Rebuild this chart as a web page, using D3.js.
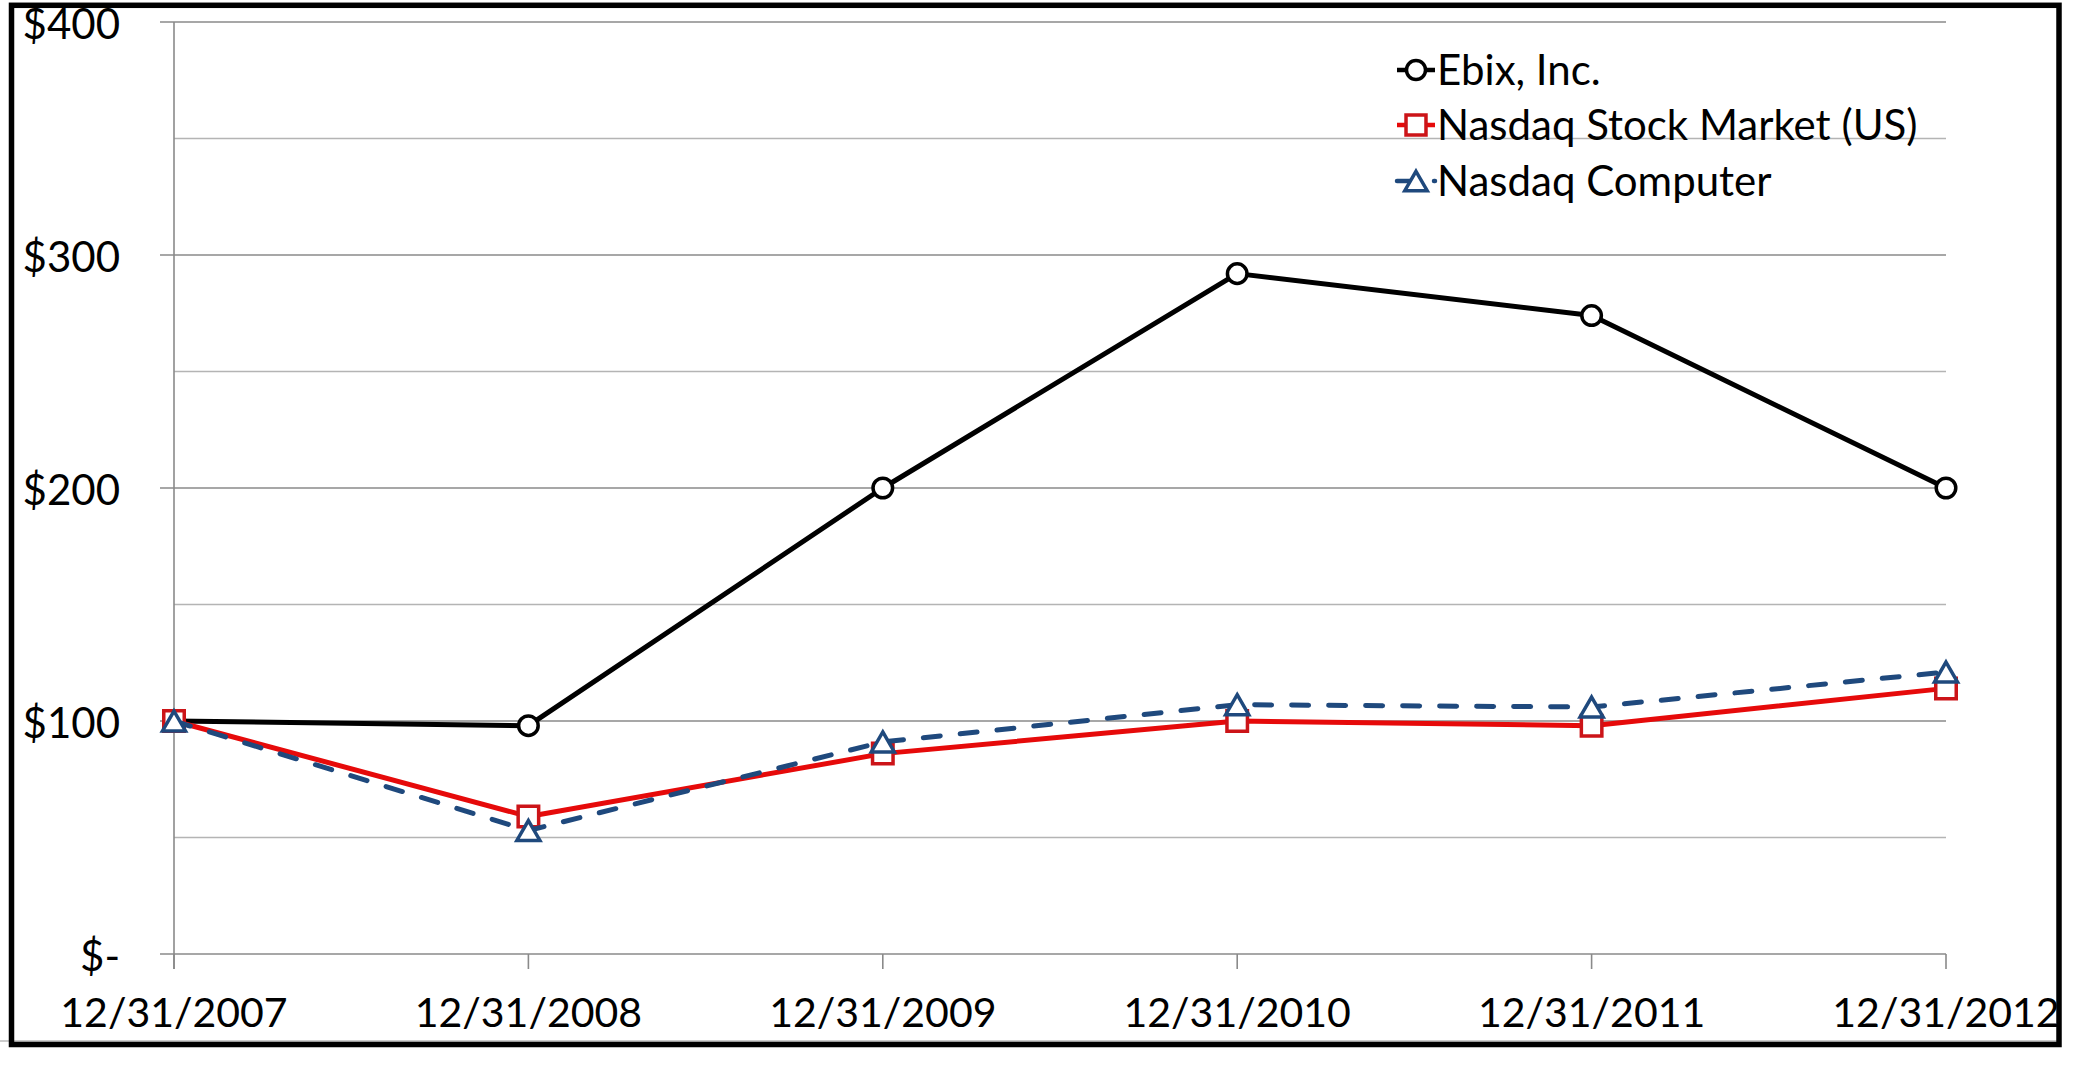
<!DOCTYPE html>
<html>
<head>
<meta charset="utf-8">
<script src="https://cdn.jsdelivr.net/npm/d3@7"></script>
<style>
  html, body { margin: 0; padding: 0; background: #fff; }
  svg { display: block; }
  text { font-family: Lato, "Open Sans", sans-serif; fill: #000; }
</style>
</head>
<body>
<svg id="chart" width="2076" height="1076"></svg>
<script>
// ---- data ----
const categories = ["12/31/2007", "12/31/2008", "12/31/2009", "12/31/2010", "12/31/2011", "12/31/2012"];
const ebix = [100, 98, 200, 292, 274, 200];
const nasdaqMarket = [100, 59, 86, 100, 98, 114];
const nasdaqComputer = [100, 53, 91, 107, 106, 121];
const seriesNames = ["Ebix, Inc.", "Nasdaq Stock Market (US)", "Nasdaq Computer"];
const yMajorTicks = [0, 100, 200, 300, 400];
const yMinorTicks = [50, 150, 250, 350];
const yTickLabels = ["$-", "$100", "$200", "$300", "$400"];

(function () {
// ---- layout ----
const svg = d3.select("#chart");
const W = 2076, H = 1076;
const pLeft = 174, pRight = 1946, pTop = 22, pBottom = 954;

const x = d3.scalePoint().domain(categories).range([pLeft, pRight]);
const y = d3.scaleLinear().domain([0, 400]).range([pBottom, pTop]);

// triangle centred on its bounding box (as spreadsheet markers are)
const triangleBox = {
  draw(context, size) {
    const s = Math.sqrt(size * 4 / Math.sqrt(3));
    const h = s * Math.sqrt(3) / 2;
    context.moveTo(0, -h / 2);
    context.lineTo(s / 2, h / 2);
    context.lineTo(-s / 2, h / 2);
    context.closePath();
  }
};

svg.append("rect").attr("width", W).attr("height", H).attr("fill", "#fff");

// minor gridlines
svg.append("g").selectAll("line").data(yMinorTicks).join("line")
  .attr("x1", pLeft).attr("x2", pRight)
  .attr("y1", d => y(d)).attr("y2", d => y(d))
  .attr("stroke", "#b4b4b4").attr("stroke-width", 1.4);

// major gridlines (with outward ticks)
svg.append("g").selectAll("line").data(yMajorTicks).join("line")
  .attr("x1", pLeft - 14).attr("x2", pRight)
  .attr("y1", d => y(d)).attr("y2", d => y(d))
  .attr("stroke", "#8a8a8a").attr("stroke-width", 1.6);

// y axis line
svg.append("line")
  .attr("x1", pLeft).attr("x2", pLeft).attr("y1", pTop).attr("y2", pBottom + 15)
  .attr("stroke", "#8a8a8a").attr("stroke-width", 1.6);

// x axis ticks
svg.append("g").selectAll("line").data(categories).join("line")
  .attr("x1", d => x(d)).attr("x2", d => x(d))
  .attr("y1", pBottom).attr("y2", pBottom + 15)
  .attr("stroke", "#8a8a8a").attr("stroke-width", 1.6);

// y tick labels
svg.append("g").selectAll("text").data(yMajorTicks).join("text")
  .attr("x", 120).attr("y", d => y(d) + 1)
  .attr("text-anchor", "end").attr("dominant-baseline", "central")
  .attr("font-size", 42)
  .text((d, i) => yTickLabels[i]);

// x tick labels
svg.append("g").selectAll("text").data(categories).join("text")
  .attr("x", d => x(d)).attr("y", 1027)
  .attr("text-anchor", "middle")
  .attr("font-size", 41)
  .text(d => d);

// ---- series ----
const series = [
  { name: seriesNames[0], values: ebix, line: "#000000", mark: "#000000", symbol: d3.symbolCircle, size: 300, dash: null, cap: "butt" },
  { name: seriesNames[1], values: nasdaqMarket, line: "#e60a0a", mark: "#cc1418", symbol: d3.symbolSquare, size: 420, dash: null, cap: "butt" },
  { name: seriesNames[2], values: nasdaqComputer, line: "#1f497d", mark: "#1f497d", symbol: triangleBox, size: 230, dash: "17,20", cap: "round" }
];

const lineGen = d3.line().x((d, i) => x(categories[i])).y(d => y(d));

series.forEach(s => {
  const g = svg.append("g");
  g.append("path").datum(s.values)
    .attr("d", lineGen)
    .attr("fill", "none")
    .attr("stroke", s.line)
    .attr("stroke-width", 5)
    .attr("stroke-linejoin", "round")
    .attr("stroke-linecap", s.cap)
    .attr("stroke-dasharray", s.dash);
  g.selectAll("path.m").data(s.values).join("path")
    .attr("class", "m")
    .attr("transform", (d, i) => `translate(${x(categories[i])},${y(d)})`)
    .attr("d", d3.symbol().type(s.symbol).size(s.size))
    .attr("fill", "#fff")
    .attr("stroke", s.mark)
    .attr("stroke-width", 3.5);
});

// ---- legend ----
const legendY = [70, 125, 181];
const lg = svg.append("g");
series.forEach((s, i) => {
  const ly = legendY[i];
  lg.append("line")
    .attr("x1", 1397).attr("x2", 1435).attr("y1", ly).attr("y2", ly)
    .attr("stroke", s.line).attr("stroke-width", 4.5)
    .attr("stroke-linecap", s.cap)
    .attr("stroke-dasharray", s.dash);
  lg.append("path")
    .attr("transform", `translate(1416,${ly})`)
    .attr("d", d3.symbol().type(s.symbol).size(s.size * 0.95))
    .attr("fill", "#fff").attr("stroke", s.mark).attr("stroke-width", 3.5);
  lg.append("text")
    .attr("x", 1437).attr("y", ly - 1)
    .attr("dominant-baseline", "central")
    .attr("font-size", 42)
    .text(s.name);
});

// ---- frame ----
svg.append("line").attr("x1", 0).attr("x2", 2057).attr("y1", 1041).attr("y2", 1041)
  .attr("stroke", "#9a9a9a").attr("stroke-width", 1.2);
svg.append("rect")
  .attr("x", 11.5).attr("y", 5.3).attr("width", 2047.5).attr("height", 1039.2)
  .attr("fill", "none").attr("stroke", "#000").attr("stroke-width", 5.5);
})();
</script>
</body>
</html>
